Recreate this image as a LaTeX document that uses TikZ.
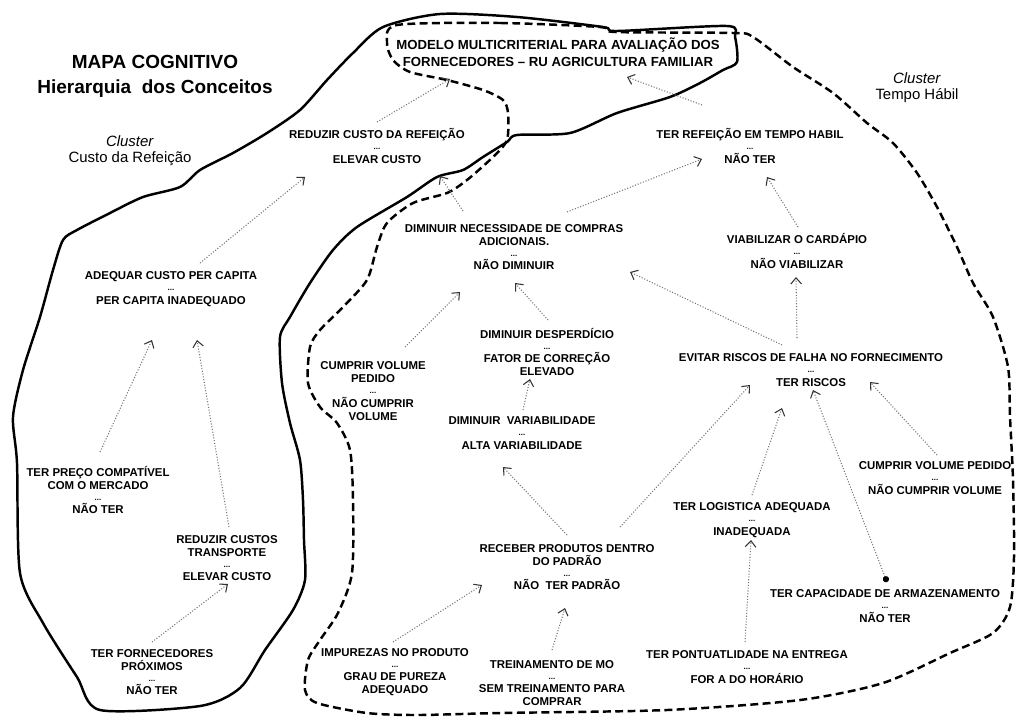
\documentclass[tikz,border=0pt]{standalone}
\usepackage{fontspec}
\setmainfont{Liberation Sans}
\usetikzlibrary{arrows.meta}

\newcommand{\ou}{{\fontsize{4.5}{5}\selectfont...}}

\begin{document}
\begin{tikzpicture}[x=0.02cm, y=-0.02cm,
	concept/.style={align=center, inner sep=0pt, font=\bfseries\fontsize{6.5}{7.4}\selectfont},
	cluster/.style={align=center, inner sep=0pt, font=\fontsize{8.5}{9}\selectfont},
	arr/.style={densely dotted, draw=black!55, line width=0.6pt, -{Straight Barb[length=3.5pt, width=6pt, black!80]}},
	border/.style={line width=1.4pt, line join=round}]
	\useasboundingbox (0,0) rectangle (1016,717);

	% cluster borders
	\draw[border] plot[smooth cycle, tension=0.45] coordinates {
		(383,27) (440,14) (517,17) (603,27) (617,31) (727,26) (735,37) (737,62) (723,70)
		(700,83) (670,97) (617,113) (570,133) (517,135) (507,142) (483,157) (463,170)
		(437,177) (407,197) (357,227) (333,250) (310,283) (290,317) (280,337) (282,383)
		(290,423) (300,460) (303,500) (304,540) (305,580) (293,610) (265,650) (240,688)
		(200,706) (100,710) (77,677) (43,623) (20,573) (17,463) (13,417) (23,370) (40,317)
		(53,270) (63,240) (77,230) (110,213) (143,197) (180,187) (200,170) (233,153)
		(267,133) (300,110) (327,80) (353,53)};
	\draw[border, dash pattern=on 4.5pt off 2.5pt] plot[smooth cycle, tension=0.45] coordinates {
		(397,25) (500,23) (600,27) (615,32) (733,33) (753,37) (793,67) (833,93) (867,123)
		(893,143) (917,173) (937,207) (957,247) (973,283) (993,317) (1008,367) (1010,417)
		(1013,480) (1014,557) (1010,607) (993,633) (950,653) (883,683) (800,700) (667,710)
		(500,713) (417,715) (367,713) (317,703) (305,690) (308,660) (320,640) (338,613)
		(352,573) (353,500) (350,450) (337,423) (320,407) (308,383) (310,347) (320,330)
		(343,307) (367,280) (377,247) (387,223) (413,203) (447,193) (467,180) (493,157)
		(507,140) (508,113) (503,100) (483,90) (447,80) (410,72) (393,60) (387,43)};

	% titles
	\node[align=center, font=\bfseries\fontsize{10.8}{14.2}\selectfont] (title) at (155,76) {MAPA COGNITIVO\\Hierarquia\ \ dos Conceitos};
	\node[cluster] (clcusto) at (130,151) {\textit{Cluster}\\Custo da Refeição};
	\node[cluster] (cltempo) at (917,88) {\textit{Cluster}\\Tempo Hábil};

	% concepts
	\node[concept, font=\bfseries\fontsize{7.5}{9.7}\selectfont] (modelo) at (558,52) {MODELO MULTICRITERIAL PARA AVALIAÇÃO DOS\\FORNECEDORES -- RU AGRICULTURA FAMILIAR};
	\node[concept] (redcusto) at (377,146) {REDUZIR CUSTO DA REFEIÇÃO\\[-1.1pt]\ou\\[0.3pt]ELEVAR CUSTO};
	\node[concept] (refeicao) at (750,146) {TER REFEIÇÃO EM TEMPO HABIL\\[-1.1pt]\ou\\[0.3pt]NÃO TER};
	\node[concept] (necess) at (514,247) {DIMINUIR NECESSIDADE DE COMPRAS\\ADICIONAIS.\\[-1.1pt]\ou\\[0.3pt]NÃO DIMINUIR};
	\node[concept] (viabil) at (797,251) {VIABILIZAR O CARDÁPIO\\[-1.1pt]\ou\\[0.3pt]NÃO VIABILIZAR};
	\node[concept] (adequar) at (171,289) {ADEQUAR CUSTO PER CAPITA\\[-1.1pt]\ou\\[0.3pt]PER CAPITA INADEQUADO};
	\node[concept] (cumprirL) at (373,391) {CUMPRIR VOLUME\\PEDIDO\\[-1.1pt]\ou\\[0.3pt]NÃO CUMPRIR\\VOLUME};
	\node[concept] (desperd) at (547,352) {DIMINUIR DESPERDÍCIO\\[-1.1pt]\ou\\[0.3pt]FATOR DE CORREÇÃO\\ELEVADO};
	\node[concept] (variab) at (522,433) {DIMINUIR\ \ VARIABILIDADE\\[-1.1pt]\ou\\[0.3pt]ALTA VARIABILIDADE};
	\node[concept] (evitar) at (811,370) {EVITAR RISCOS DE FALHA NO FORNECIMENTO\\[-1.1pt]\ou\\[0.3pt]TER RISCOS};
	\node[concept] (cumprirR) at (935,478) {CUMPRIR VOLUME PEDIDO\\[-1.1pt]\ou\\[0.3pt]NÃO CUMPRIR VOLUME};
	\node[concept] (preco) at (98,490) {TER PREÇO COMPATÍVEL\\COM O MERCADO\\[-1.1pt]\ou\\[0.3pt]NÃO TER};
	\node[concept] (transp) at (227,558) {REDUZIR CUSTOS\\TRANSPORTE\\[-1.1pt]\ou\\[0.3pt]ELEVAR CUSTO};
	\node[concept] (proximos) at (152,672) {TER FORNECEDORES\\PRÓXIMOS\\[-1.1pt]\ou\\[0.3pt]NÃO TER};
	\node[concept] (receber) at (567,567) {RECEBER PRODUTOS DENTRO\\DO PADRÃO\\[-1.1pt]\ou\\[0.3pt]NÃO\ \ TER PADRÃO};
	\node[concept] (logist) at (752,520) {TER LOGISTICA ADEQUADA\\[-1.1pt]\ou\\[0.3pt]INADEQUADA};
	\node[concept] (armaz) at (885,606) {TER CAPACIDADE DE ARMAZENAMENTO\\[-1.1pt]\ou\\[0.3pt]NÃO TER};
	\node[concept] (impurezas) at (395,672) {IMPUREZAS NO PRODUTO\\[-1.1pt]\ou\\[0.3pt]GRAU DE PUREZA\\ADEQUADO};
	\node[concept] (treino) at (552,683) {TREINAMENTO DE MO\\[-1.1pt]\ou\\[0.3pt]SEM TREINAMENTO PARA\\COMPRAR};
	\node[concept] (pontual) at (747,667) {TER PONTUATLIDADE NA ENTREGA\\[-1.1pt]\ou\\[0.3pt]FOR A DO HORÁRIO};

	% influences
	\foreach \a/\ax/\ay/\b/\bx/\by in {
		redcusto/0/-24/modelo/-108/27, refeicao/-48/-41/modelo/69/25,
		adequar/29/-26/redcusto/-72/31, necess/-51/-36/redcusto/63/30,
		necess/53/-35/refeicao/-48/13, viabil/1/-24/refeicao/17/31,
		preco/2/-38/adequar/-19/51, transp/2/-31/adequar/26/51,
		proximos/0/-30/transp/1/26, cumprirL/32/-44/necess/-54/45,
		desperd/1/-32/necess/1/36, variab/1/-23/desperd/-17/27,
		evitar/-29/-25/necess/116/25, evitar/-14/-32/viabil/-1/26,
		receber/0/-32/variab/-19/34, receber/53/-40/evitar/-61/15,
		logist/0/-25/evitar/-29/38, cumprirR/2/-23/evitar/59/12,
		impurezas/-2/-30/receber/-85/18, treino/0/-33/receber/-2/41,
		pontual/-2/-25/logist/-1/20}
		\draw[arr] ([shift={(\ax,\ay)}]\a.center) -- ([shift={(\bx,\by)}]\b.center);
	\draw[arr, {Circle[length=3.5pt, black]}-{Straight Barb[length=3.5pt, width=6pt, black!80]}]
		([shift={(2,-24)}]armaz.center) -- ([shift={(2,20)}]evitar.center);
\end{tikzpicture}
\end{document}
